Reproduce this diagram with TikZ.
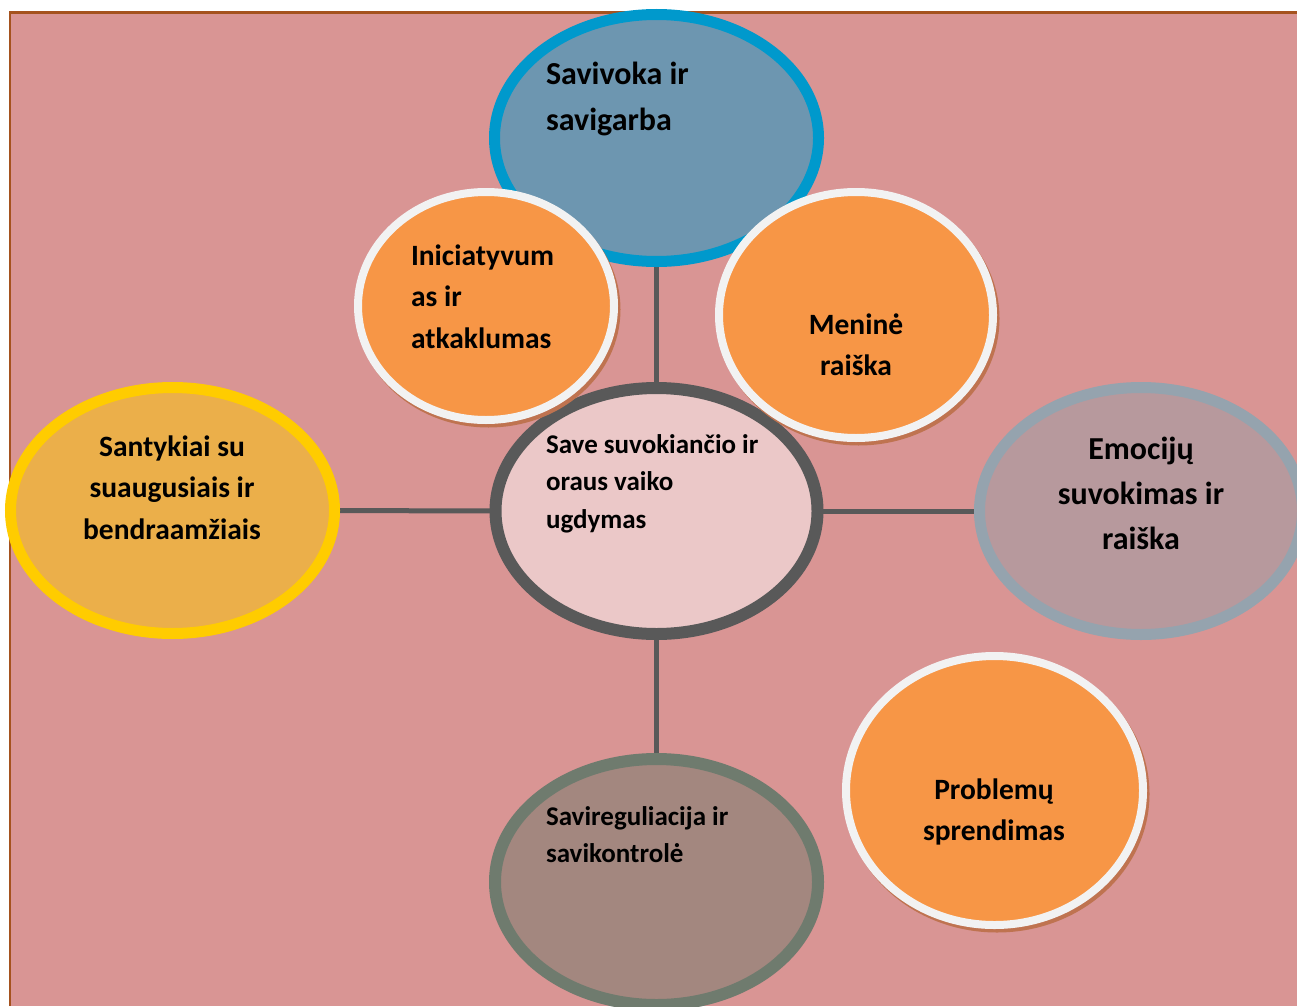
\documentclass[tikz,border=0pt]{standalone}
\usepackage{fontspec}
\setmainfont{Carlito}
\usetikzlibrary{shapes.geometric,shadows}
\definecolor{bgpink}{HTML}{D99594}
\definecolor{framebrown}{HTML}{A5521E}
\definecolor{linegray}{HTML}{595959}
\definecolor{ctrfill}{HTML}{EBC8C8}
\definecolor{bluefill}{HTML}{6D96B0}
\definecolor{blueedge}{HTML}{0099CC}
\definecolor{orangefill}{HTML}{F79646}
\definecolor{whiteedge}{HTML}{F2F2F2}
\definecolor{shadowbrown}{HTML}{BF7350}
\definecolor{goldfill}{HTML}{EBAF4A}
\definecolor{goldedge}{HTML}{FFCC00}
\definecolor{mauvefill}{HTML}{B7999D}
\definecolor{mauveedge}{HTML}{95A3AE}
\definecolor{taupefill}{HTML}{A3877F}
\definecolor{taupeedge}{HTML}{6F7B6E}
\pgfdeclarelayer{bg}
\pgfsetlayers{bg,main}
\newcommand\txtblock[2]{\begin{tabular}[t]{@{}#1@{}}#2\end{tabular}}
\begin{document}
\begin{tikzpicture}[x=1pt,y=-1pt,
  bubble/.style={ellipse, inner sep=0pt, outer sep=0pt},
  orangebubble/.style={bubble, fill=orangefill, draw=whiteedge, line width=8pt,
    drop shadow={shadow xshift=2.5pt, shadow yshift=-3.5pt, fill=shadowbrown, draw=shadowbrown, line width=8pt, opacity=1}},
  connector/.style={draw=linegray, line width=5pt},
  txt/.style={inner sep=0pt, outer sep=0pt, text=black},
  bigfont/.style={font=\fontsize{32}{45}\selectfont\bfseries},
  midfont/.style={font=\fontsize{29.5}{41.5}\selectfont\bfseries},
  smallfont/.style={font=\fontsize{27}{37.5}\selectfont\bfseries}
]
\useasboundingbox (0,0) rectangle (1297,1006);

% bubbles
\node[bubble, fill=bluefill, draw=blueedge, line width=11pt, minimum width=324pt, minimum height=247pt] (sav) at (656.5,138) {};
\node[bubble, fill=ctrfill, draw=linegray, line width=12pt, minimum width=322pt, minimum height=246pt] (ctr) at (656.5,511) {};
\node[bubble, fill=goldfill, draw=goldedge, line width=11pt, minimum width=324pt, minimum height=246pt] (sant) at (172.5,510.5) {};
\node[bubble, fill=mauvefill, draw=mauveedge, line width=11pt, minimum width=323pt, minimum height=247pt] (emo) at (1141,511) {};
\node[bubble, fill=taupefill, draw=taupeedge, line width=12pt, minimum width=323pt, minimum height=246pt] (savireg) at (656.5,882) {};
\node[orangebubble, minimum width=256pt, minimum height=228pt] (ini) at (486,306) {};
\node[orangebubble, minimum width=274pt, minimum height=246pt] (men) at (856,315) {};
\node[orangebubble, minimum width=297pt, minimum height=269pt] (prob) at (994.5,790.5) {};

% texts
\node[txt, bigfont, anchor=base west] (savT) at (546,85) {\txtblock{l}{Savivoka ir\\savigarba}};
\node[txt, midfont, anchor=base west] (iniT) at (411,265) {\txtblock{l}{Iniciatyvum\\as ir\\atkaklumas}};
\node[txt, midfont, anchor=base] (menT) at (856,334) {\txtblock{c}{Meninė\\raiška}};
\node[txt, smallfont, anchor=base west] (ctrT) at (546,453) {\txtblock{l}{Save suvokiančio ir\\oraus vaiko\\ugdymas}};
\node[txt, midfont, anchor=base] (santT) at (172,456) {\txtblock{c}{Santykiai su\\suaugusiais ir\\bendraamžiais}};
\node[txt, bigfont, anchor=base] (emoT) at (1141,459) {\txtblock{c}{Emocijų\\suvokimas ir\\raiška}};
\node[txt, smallfont, anchor=base west] (saviregT) at (546,825) {\txtblock{l}{Savireguliacija ir\\savikontrolė}};
\node[txt, midfont, anchor=base] (probT) at (994,799) {\txtblock{c}{Problemų\\sprendimas}};

\begin{pgfonlayer}{bg}
  \fill[bgpink] (9,12) rectangle (1297,1006);
  \draw[framebrown, line width=2.5pt] (10,1006) -- (10,12.5) -- (1297,12.5);
  \draw[connector] (sav) -- (ctr);
  \draw[connector] (sant) -- (ctr);
  \draw[connector] (ctr) -- (emo);
  \draw[connector] (ctr) -- (savireg);
\end{pgfonlayer}
\end{tikzpicture}
\end{document}
